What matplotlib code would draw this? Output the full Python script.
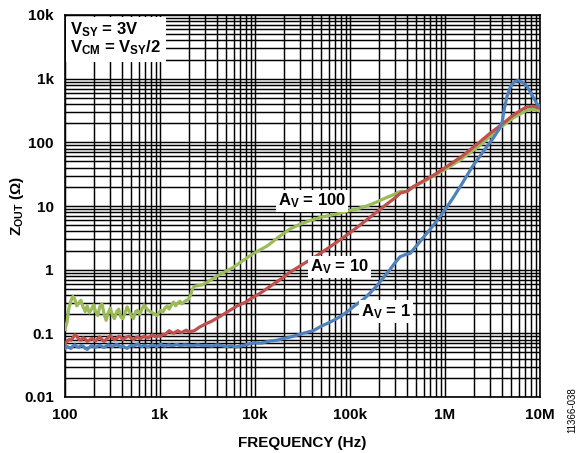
import matplotlib
matplotlib.use("Agg")
import matplotlib.pyplot as plt
from matplotlib.ticker import FixedLocator, LogLocator, NullFormatter

plt.rcParams['font.family'] = ['Liberation Sans', 'DejaVu Sans']
plt.rcParams['mathtext.fontset'] = 'custom'
plt.rcParams['mathtext.rm'] = 'Liberation Sans:bold'
plt.rcParams['mathtext.bf'] = 'Liberation Sans:bold'
plt.rcParams['mathtext.it'] = 'Liberation Sans:bold'

# ---- data ----
f_av100 = [100, 105, 110, 116, 121, 127, 133, 140, 147, 155, 163, 171, 180, 190, 200, 210, 221, 232,
           245, 258, 271, 285, 300, 316, 332, 350, 368, 387, 407, 429, 451, 475, 500, 526, 554, 583,
           613, 645, 679, 715, 752, 792, 833, 877, 923, 971, 1020, 1080, 1130, 1190, 1250, 1320,
           1390, 1460, 1540, 1620, 1700, 1790, 1890, 1990, 2100, 2200, 2300, 2500, 2800, 3100,
           3500, 4000, 5000, 6000, 7000, 8300, 10000, 13400, 17000, 23000, 30000, 38000, 50000,
           73000, 90000, 118000, 150000, 190000, 240000, 280000, 340000, 400000, 480000, 590000,
           800000, 1050000, 1500000, 2300000, 3000000, 4000000, 5200000, 6500000, 7300000,
           8500000, 10000000]
z_av100 = [0.115, 0.15, 0.25, 0.33, 0.38, 0.34, 0.27, 0.30, 0.33, 0.26, 0.22, 0.27, 0.21, 0.24, 0.28,
           0.22, 0.19, 0.26, 0.29, 0.20, 0.16, 0.21, 0.25, 0.19, 0.17, 0.22, 0.24, 0.18, 0.17, 0.21,
           0.26, 0.22, 0.19, 0.17, 0.22, 0.23, 0.20, 0.24, 0.28, 0.25, 0.23, 0.22, 0.21, 0.20, 0.19,
           0.21, 0.23, 0.22, 0.25, 0.27, 0.24, 0.28, 0.31, 0.27, 0.30, 0.32, 0.29, 0.31, 0.33, 0.34,
           0.40, 0.50, 0.55, 0.56, 0.58, 0.63, 0.70, 0.80, 0.95, 1.10, 1.30, 1.55, 1.85, 2.35, 3.1,
           4.3, 5.2, 5.9, 6.7, 7.5, 8.2, 9.0, 10.0, 11.5, 13.5, 14.8, 17.0, 17.0, 20.5, 24, 31, 39,
           55, 88, 125, 180, 240, 290, 320, 330, 310]

f_av10 = [100, 105, 110, 116, 121, 127, 133, 140, 147, 155, 163, 171, 180, 190, 200, 210, 221, 232,
          245, 258, 271, 285, 300, 316, 332, 350, 368, 387, 407, 429, 451, 475, 500, 526, 554, 583,
          613, 645, 679, 715, 752, 792, 833, 877, 923, 971, 1020, 1080, 1130, 1190, 1250, 1320,
          1390, 1460, 1540, 1620, 1700, 1790, 1890, 1990, 2100, 2300, 2600, 3000, 3500, 4300,
          5200, 6500, 8000, 9600, 12000, 15000, 19000, 23000, 30000, 40000, 50000, 62000, 80000,
          100000, 138000, 180000, 240000, 300000, 340000, 400000, 460000, 600000, 800000,
          1050000, 1500000, 2300000, 3000000, 3800000, 5200000, 6500000, 7300000, 8500000,
          10000000]
z_av10 = [0.068, 0.075, 0.08, 0.078, 0.085, 0.095, 0.09, 0.08, 0.078, 0.085, 0.082, 0.075, 0.078,
          0.083, 0.08, 0.076, 0.082, 0.088, 0.08, 0.075, 0.08, 0.086, 0.092, 0.085, 0.079, 0.083,
          0.09, 0.087, 0.08, 0.085, 0.088, 0.09, 0.083, 0.08, 0.085, 0.088, 0.083, 0.085, 0.09,
          0.087, 0.085, 0.09, 0.095, 0.09, 0.088, 0.093, 0.09, 0.097, 0.095, 0.103, 0.11, 0.104,
          0.10, 0.105, 0.11, 0.105, 0.103, 0.108, 0.112, 0.106, 0.107, 0.11, 0.125, 0.14, 0.155,
          0.185, 0.22, 0.27, 0.31, 0.37, 0.45, 0.57, 0.72, 0.9, 1.15, 1.5, 1.85, 2.3, 3.0, 3.8,
          5.5, 7.5, 10.5, 13.5, 16, 17, 20, 25, 32, 42, 60, 100, 140, 182, 265, 330, 360, 370, 345]

f_av1 = [100, 105, 110, 116, 121, 127, 133, 140, 147, 155, 163, 171, 180, 190, 200, 210, 221, 232,
         245, 258, 271, 285, 300, 316, 332, 350, 368, 387, 407, 429, 451, 475, 500, 526, 554, 583,
         613, 645, 679, 715, 752, 792, 833, 877, 923, 971, 1020, 1080, 1130, 1190, 1250, 1320,
         1400, 1500, 1650, 1800, 2000, 2200, 2500, 2800, 3100, 3500, 4000, 4500, 5000, 5600,
         6300, 7000, 8000, 9000, 10000, 11500, 13000, 14500, 17000, 20000, 24000, 28000, 32000,
         41000, 50000, 62000, 80000, 94000, 115000, 138000, 160000, 190000, 230000, 263000,
         300000, 337000, 380000, 430000, 480000, 550000, 640000, 740000, 850000, 960000,
         1200000, 1500000, 1950000, 2500000, 3200000, 3700000, 4000000, 4200000, 4500000,
         4900000, 5400000, 5900000, 6500000, 7300000, 8200000, 9300000, 10000000]
z_av1 = [0.058, 0.062, 0.06, 0.058, 0.063, 0.066, 0.062, 0.06, 0.064, 0.063, 0.058, 0.056, 0.06,
         0.064, 0.062, 0.06, 0.063, 0.065, 0.062, 0.06, 0.063, 0.066, 0.064, 0.062, 0.065, 0.067,
         0.064, 0.061, 0.063, 0.06, 0.058, 0.062, 0.065, 0.063, 0.066, 0.068, 0.064, 0.062, 0.065,
         0.063, 0.061, 0.064, 0.066, 0.064, 0.062, 0.065, 0.067, 0.064, 0.063, 0.065, 0.066,
         0.064, 0.065, 0.067, 0.064, 0.066, 0.065, 0.064, 0.066, 0.064, 0.065, 0.063, 0.066,
         0.064, 0.062, 0.064, 0.061, 0.063, 0.066, 0.069, 0.071, 0.07, 0.073, 0.076, 0.078,
         0.083, 0.088, 0.094, 0.10, 0.11, 0.13, 0.15, 0.185, 0.22, 0.28, 0.34, 0.42, 0.55, 0.78,
         1.0, 1.3, 1.6, 1.72, 1.8, 2.2, 2.8, 3.7, 4.8, 6.3, 8.0, 13, 22, 42, 70, 115, 160, 210,
         330, 530, 760, 900, 930, 880, 760, 560, 400, 370]

x_ticks = [100, 1e3, 1e4, 1e5, 1e6, 1e7]
x_labels = ['100', '1k', '10k', '100k', '1M', '10M']
y_ticks = [0.01, 0.1, 1, 10, 100, 1e3, 1e4]
y_labels = ['0.01', '0.1', '1', '10', '100', '1k', '10k']

c_green = '#9BBB59'
c_red = '#C0504D'
c_blue = '#4F81BD'

fig = plt.figure(figsize=(5.84, 4.53), dpi=100)
ax = fig.add_axes([65 / 584, 1 - 397 / 453, 475 / 584, 382 / 453])
ax.set_xscale('log')
ax.set_yscale('log')
ax.set_xlim(100, 1e7)
ax.set_ylim(0.01, 1e4)

ax.xaxis.set_major_locator(FixedLocator(x_ticks))
ax.yaxis.set_major_locator(FixedLocator(y_ticks))
ax.set_xticklabels(x_labels, fontsize=11, fontweight='bold')
ax.set_yticklabels(y_labels, fontsize=11, fontweight='bold')
ax.xaxis.set_minor_locator(LogLocator(base=10, subs=range(2, 10), numticks=20))
ax.yaxis.set_minor_locator(LogLocator(base=10, subs=range(2, 10), numticks=20))
ax.xaxis.set_minor_formatter(NullFormatter())
ax.yaxis.set_minor_formatter(NullFormatter())
ax.tick_params(which='both', length=0)
ax.tick_params(axis='x', pad=8)
ax.tick_params(axis='y', pad=8)
ax.grid(True, which='both', color='black', linewidth=1.05)
ax.set_axisbelow(True)
for s in ax.spines.values():
    s.set_linewidth(1.2)
    s.set_color('black')

ax.plot(f_av100, z_av100, color=c_green, linewidth=2.3, zorder=3)
ax.plot(f_av10, z_av10, color=c_red, linewidth=2.3, zorder=4)
ax.plot(f_av1, z_av1, color=c_blue, linewidth=2.3, zorder=5)

bbox = dict(facecolor='white', edgecolor='none', pad=1.5)
ax.text(40000, 12, 'A$_{\\mathrm{V}}$ = 100', fontsize=12, fontweight='bold',
        ha='center', va='center', bbox=bbox, zorder=6)
ax.text(78000, 1.1, 'A$_{\\mathrm{V}}$ = 10', fontsize=12, fontweight='bold',
        ha='center', va='center', bbox=bbox, zorder=6)
ax.text(240000, 0.22, 'A$_{\\mathrm{V}}$ = 1', fontsize=12, fontweight='bold',
        ha='center', va='center', bbox=bbox, zorder=6)

ax.text(0.011, 0.985, 'V$_{\\mathrm{SY}}$ = 3V\nV$_{\\mathrm{CM}}$ = V$_{\\mathrm{SY}}$/2',
        transform=ax.transAxes, fontsize=12, fontweight='bold', ha='left', va='top',
        linespacing=0.95, zorder=6,
        bbox=dict(facecolor='white', edgecolor='none', pad=3))

ax.set_xlabel('FREQUENCY (Hz)', fontsize=11, fontweight='bold', labelpad=10)
ax.set_ylabel('Z$_{\\mathrm{OUT}}$ (Ω)', fontsize=11, fontweight='bold')
ax.yaxis.set_label_coords(-0.082, 0.5)

fig.text(572 / 584, 1 - 410 / 453, '11366-038', rotation=90, fontsize=7,
         ha='center', va='center')

fig.savefig('out.png', dpi=100)
